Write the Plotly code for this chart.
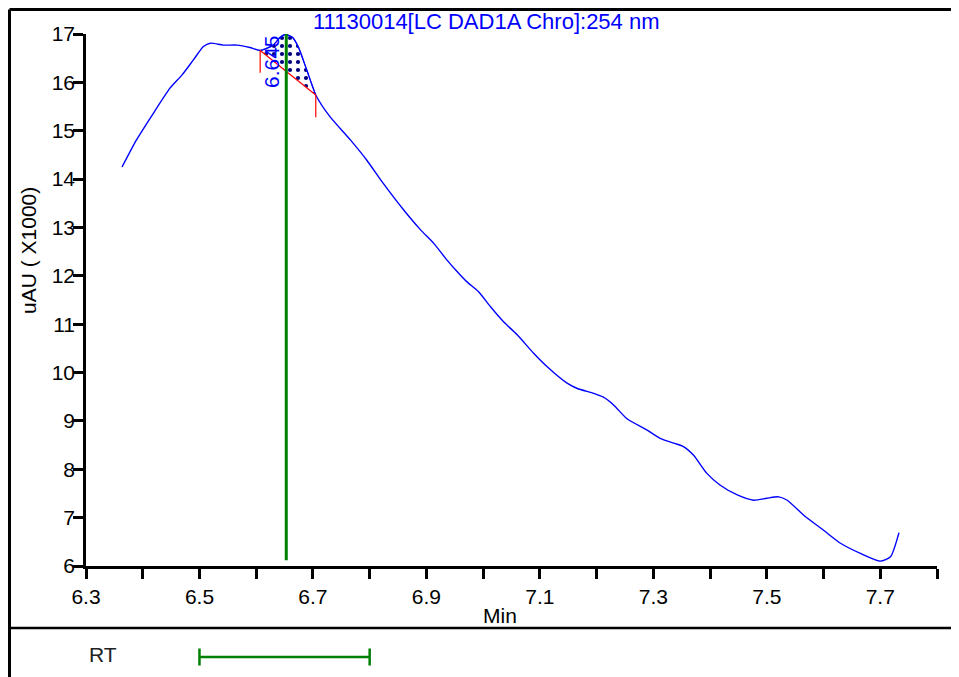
import plotly.graph_objects as go

# ---------------- data ----------------
time_min = [6.3635, 6.389, 6.4187, 6.448, 6.469, 6.489, 6.507, 6.519, 6.542, 6.566,
            6.589, 6.607, 6.630, 6.642, 6.651, 6.663, 6.674, 6.689, 6.705, 6.730,
            6.766, 6.795, 6.824, 6.860, 6.889, 6.913, 6.936, 6.954, 6.971, 6.992,
            7.013, 7.036, 7.060, 7.089, 7.113, 7.148, 7.166, 7.195, 7.212, 7.230,
            7.253, 7.289, 7.312, 7.336, 7.353, 7.371, 7.394, 7.418, 7.448, 7.477,
            7.500, 7.521, 7.536, 7.565, 7.600, 7.630, 7.665, 7.700, 7.718, 7.733]
signal = [14.25, 14.81, 15.36, 15.88, 16.15, 16.46, 16.74, 16.81, 16.77, 16.77,
          16.72, 16.66, 16.77, 16.93, 16.99, 16.94, 16.74, 16.26, 15.74, 15.29,
          14.81, 14.39, 13.91, 13.36, 12.96, 12.67, 12.33, 12.09, 11.88, 11.67,
          11.36, 11.05, 10.78, 10.40, 10.12, 9.78, 9.67, 9.57, 9.49, 9.33,
          9.05, 8.81, 8.64, 8.54, 8.47, 8.29, 7.92, 7.67, 7.47, 7.36,
          7.40, 7.43, 7.36, 7.05, 6.74, 6.47, 6.26, 6.10, 6.19, 6.69]

peak_start = 6.607
peak_end = 6.705
baseline_x = [6.607, 6.705]
baseline_y = [16.66, 15.74]
baseline_tick_drop = 0.46
rt_line_x = 6.653
rt_line_y = [6.12, 17.0]
rt_label = "6.645"
rt_window = [6.5, 6.8]

x_tickvals = [6.3, 6.4, 6.5, 6.6, 6.7, 6.8, 6.9, 7.0, 7.1, 7.2, 7.3, 7.4, 7.5, 7.6, 7.7, 7.8]
x_ticktext = ["6.3", "", "6.5", "", "6.7", "", "6.9", "", "7.1", "", "7.3", "", "7.5", "", "7.7", ""]
y_tickvals = [6, 7, 8, 9, 10, 11, 12, 13, 14, 15, 16, 17]

title_text = "11130014[LC DAD1A Chro]:254 nm"
FONT = "Liberation Sans, Arial, sans-serif"

# ---------------- figure ----------------
fig = go.Figure()

peak_x = [t for t in time_min if peak_start <= t <= peak_end]
peak_y = [s for t, s in zip(time_min, signal) if peak_start <= t <= peak_end]

# dotted peak area
fig.add_trace(go.Scatter(
    x=peak_x, y=peak_y, mode="lines", fill="toself",
    line=dict(color="blue", width=0.8, shape="spline", smoothing=0.6),
    fillcolor="rgba(255,255,255,0)",
    fillpattern=dict(shape=".", fgcolor="#000080", fgopacity=1, bgcolor="white",
                     size=8, solidity=0.22),
    hoverinfo="skip", showlegend=False,
))

# chromatogram
fig.add_trace(go.Scatter(
    x=time_min, y=signal, mode="lines",
    line=dict(color="blue", width=1.4, shape="spline", smoothing=0.6),
    showlegend=False,
))

# baseline
fig.add_trace(go.Scatter(
    x=baseline_x, y=baseline_y, mode="lines",
    line=dict(color="red", width=1.2), showlegend=False,
))
fig.add_trace(go.Scatter(
    x=[baseline_x[0], baseline_x[0], None, baseline_x[1], baseline_x[1]],
    y=[baseline_y[0], baseline_y[0] - baseline_tick_drop, None,
       baseline_y[1], baseline_y[1] - baseline_tick_drop],
    mode="lines", line=dict(color="red", width=1.2), showlegend=False,
))

# retention time line
fig.add_trace(go.Scatter(
    x=[rt_line_x, rt_line_x], y=rt_line_y, mode="lines",
    line=dict(color="green", width=3), showlegend=False,
))

# RT window bar (lower panel)
fig.add_trace(go.Scatter(
    x=rt_window, y=[0, 0], mode="lines+markers", xaxis="x2", yaxis="y2",
    line=dict(color="green", width=2.5),
    marker=dict(symbol="line-ns", size=12, line=dict(color="green", width=2.5)),
    showlegend=False,
))

fig.add_annotation(x=6.626, y=16.44, xref="x", yref="y", text=rt_label,
                   textangle=-90, showarrow=False, xanchor="center", yanchor="middle",
                   font=dict(family=FONT, size=21, color="blue"))

# page-pixel helpers (page has an 8px body margin around the figure)
def px_x(p):
    return (p - 86) / 851.0

def px_y(p):
    return (672 - p) / 638.0

def label(px, py, text, size=21, color="black", angle=0):
    fig.add_annotation(x=px_x(px), y=px_y(py), xref="paper", yref="paper", text=text,
                       showarrow=False, xanchor="center", yanchor="middle",
                       textangle=angle, font=dict(family=FONT, size=size, color=color))

label(486, 22, title_text, size=22, color="blue")
label(500, 615, "Min")
label(28, 251, "uAU ( X1000)", angle=-90)
label(103, 654, "RT", color="#222")
label(150, -6, "g")

# frame lines
fig.add_shape(type="line", xref="paper", yref="paper", x0=px_x(9.5), x1=px_x(975),
              y0=px_y(9.5), y1=px_y(9.5), line=dict(color="black", width=3))
fig.add_shape(type="line", xref="paper", yref="paper", x0=px_x(9.5), x1=px_x(9.5),
              y0=px_y(690), y1=px_y(9.5), line=dict(color="black", width=3))
fig.add_shape(type="line", xref="paper", yref="paper", x0=px_x(9.5), x1=px_x(975),
              y0=px_y(628), y1=px_y(628), line=dict(color="black", width=2.5))

main_bottom = px_y(566)

fig.update_layout(
    width=951, height=669,
    margin=dict(l=78, r=22, t=26, b=5, autoexpand=False),
    paper_bgcolor="white", plot_bgcolor="white",
    font=dict(family=FONT, size=21, color="black"),
    showlegend=False,
    xaxis=dict(
        range=[6.3, 7.8], domain=[0, 1], anchor="y", automargin=False,
        tickvals=x_tickvals, ticktext=x_ticktext,
        showline=True, linecolor="black", linewidth=2.5,
        ticks="outside", ticklen=10, tickwidth=2.5, tickcolor="black",
        showgrid=False, zeroline=False, ticklabelstandoff=0,
        tickfont=dict(family=FONT, size=21, color="black"),
    ),
    yaxis=dict(
        range=[6, 17], domain=[main_bottom, 1], anchor="x", automargin=False,
        tickvals=y_tickvals,
        showline=True, linecolor="black", linewidth=2.5,
        ticks="outside", ticklen=10, tickwidth=2.5, tickcolor="black",
        showgrid=False, zeroline=False, ticklabelstandoff=-6,
        tickfont=dict(family=FONT, size=21, color="black"),
    ),
    xaxis2=dict(matches="x", anchor="y2", visible=False, domain=[0, 1], automargin=False),
    yaxis2=dict(domain=[0, 0.06], range=[-0.392, 0.608], anchor="x2", visible=False,
                automargin=False),
)

fig.write_html("out.html")
